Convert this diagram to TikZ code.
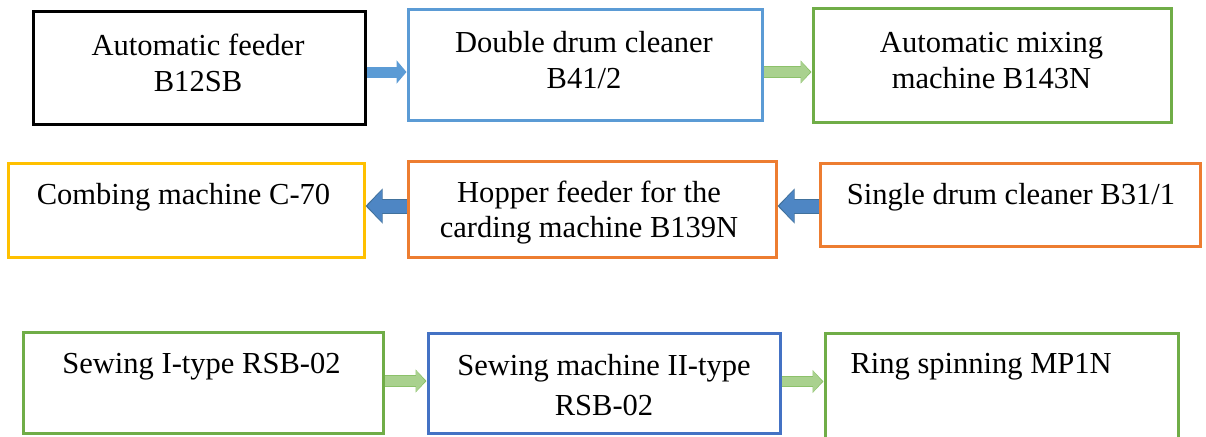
\documentclass[tikz,border=0pt]{standalone}
\usepackage{fontspec}
\setmainfont{Liberation Serif}
\usetikzlibrary{arrows.meta,calc}

\definecolor{lineblue}{HTML}{5B9BD5}
\definecolor{linegreen}{HTML}{70AD47}
\definecolor{lineyellow}{HTML}{FFC000}
\definecolor{lineorange}{HTML}{ED7D31}
\definecolor{linedarkblue}{HTML}{4472C4}
\definecolor{arrowgreen}{HTML}{A9D18E}
\definecolor{arrowgreenedge}{HTML}{8CC16A}
\definecolor{arrowblue}{HTML}{4E86C4}
\definecolor{arrowblueedge}{HTML}{41719C}

\tikzset{every picture/.style={line width=0.75pt}}
\tikzset{
  box/.style={draw, line width=2.25pt, inner sep=0pt},
  lbl/.style={inner sep=0pt, font=\fontsize{22.9}{27}\selectfont, align=center, anchor=base},
  bluearrow/.style={draw=lineblue, line width=8.25pt, -{Triangle[length=7.5pt,width=17.25pt]}},
  greenarrow/.style={draw=arrowgreen, line width=7.1pt, shorten >=1.1pt,
    -{Triangle[length=6.6pt,width=15.2pt]},
    preaction={draw=arrowgreenedge, line width=8.6pt, shorten >=0pt,
      -{Triangle[length=8.25pt,width=16.9pt]}}},
  darkarrow/.style={draw=arrowblue, line width=9.75pt, shorten >=1.4pt,
    -{Triangle[length=11pt,width=23.5pt]},
    preaction={draw=arrowblueedge, line width=11.25pt, shorten >=0pt,
      -{Triangle[length=12.75pt,width=25.5pt]}}},
}

\begin{document}
\begin{tikzpicture}[x=0.75pt,y=0.75pt,yscale=-1,xscale=1]
	\useasboundingbox (0,0) rectangle (1206,436);
	
	%Shape: Rectangle
	\node[box, draw=black, minimum width=249pt, minimum height=84.75pt] (feeder) at (199,67.5) {};
	%Shape: Rectangle
	\node[box, draw=lineblue, minimum width=265.5pt, minimum height=83.25pt] (cleaner) at (585,64.5) {};
	%Shape: Rectangle
	\node[box, draw=linegreen, minimum width=268.5pt, minimum height=85.5pt] (mixer) at (992,65) {};
	%Shape: Rectangle
	\node[box, draw=lineyellow, minimum width=267pt, minimum height=70.5pt] (comber) at (186,210) {};
	%Shape: Rectangle
	\node[box, draw=lineorange, minimum width=276pt, minimum height=72pt] (hopper) at (592,209) {};
	%Shape: Rectangle
	\node[box, draw=lineorange, minimum width=285pt, minimum height=62.25pt] (single) at (1010,204.5) {};
	%Shape: Rectangle
	\node[box, draw=linegreen, minimum width=270pt, minimum height=75.75pt] (sewone) at (203,382.5) {};
	%Shape: Rectangle
	\node[box, draw=linedarkblue, minimum width=264pt, minimum height=75pt] (sewtwo) at (604,383) {};
	%Shape: Rectangle
	\node[box, draw=linegreen, minimum width=264.75pt, minimum height=81pt] (ring) at (1001.5,387) {};
	
	% Text Node
	\node[lbl] (feedertxt) at (198,91) {Automatic feeder\\B12SB};
	% Text Node
	\node[lbl] (cleanertxt) at (584,88) {Double drum cleaner\\B41/2};
	% Text Node
	\node[lbl] (mixertxt) at (991.5,88) {Automatic mixing\\machine B143N};
	% Text Node
	\node[lbl] (combertxt) at (183.5,204) {Combing machine C-70};
	% Text Node
	\node[lbl, font=\fontsize{22.9}{26.25}\selectfont] (hoppertxt) at (589,237) {Hopper feeder for the\\carding machine B139N};
	% Text Node
	\node[lbl] (singletxt) at (1011,204) {Single drum cleaner B31/1};
	% Text Node
	\node[lbl] (sewonetxt) at (201.5,373) {Sewing I-type RSB-02};
	% Text Node
	\node[lbl, font=\fontsize{22.9}{30}\selectfont] (sewtwotxt) at (604,415) {Sewing machine II-type\\RSB-02};
	% Text Node
	\node[lbl, anchor=base west] (ringtxt) at (850,373) {Ring spinning MP1N};
	
	%Straight Lines
	\coordinate (a1) at ($(feeder.east)+(0,4.5)$);
	\draw[bluearrow] (a1) -- (a1 -| cleaner.west);
	%Straight Lines
	\coordinate (a2) at ($(cleaner.east)+(0,7.5)$);
	\draw[greenarrow] (a2) -- (a2 -| mixer.west);
	%Straight Lines
	\coordinate (a3) at ($(single.west)+(0,1.5)$);
	\draw[darkarrow] (a3) -- (a3 -| hopper.east);
	%Straight Lines
	\coordinate (a4) at ($(hopper.west)+(0,-3)$);
	\draw[darkarrow] (a4) -- (a4 -| comber.east);
	%Straight Lines
	\coordinate (a5) at ($(sewone.east)+(0,-1.5)$);
	\draw[greenarrow] (a5) -- (a5 -| sewtwo.west);
	%Straight Lines
	\coordinate (a6) at ($(sewtwo.east)+(0,-1.5)$);
	\draw[greenarrow] (a6) -- (a6 -| ring.west);
	
\end{tikzpicture}
\end{document}
